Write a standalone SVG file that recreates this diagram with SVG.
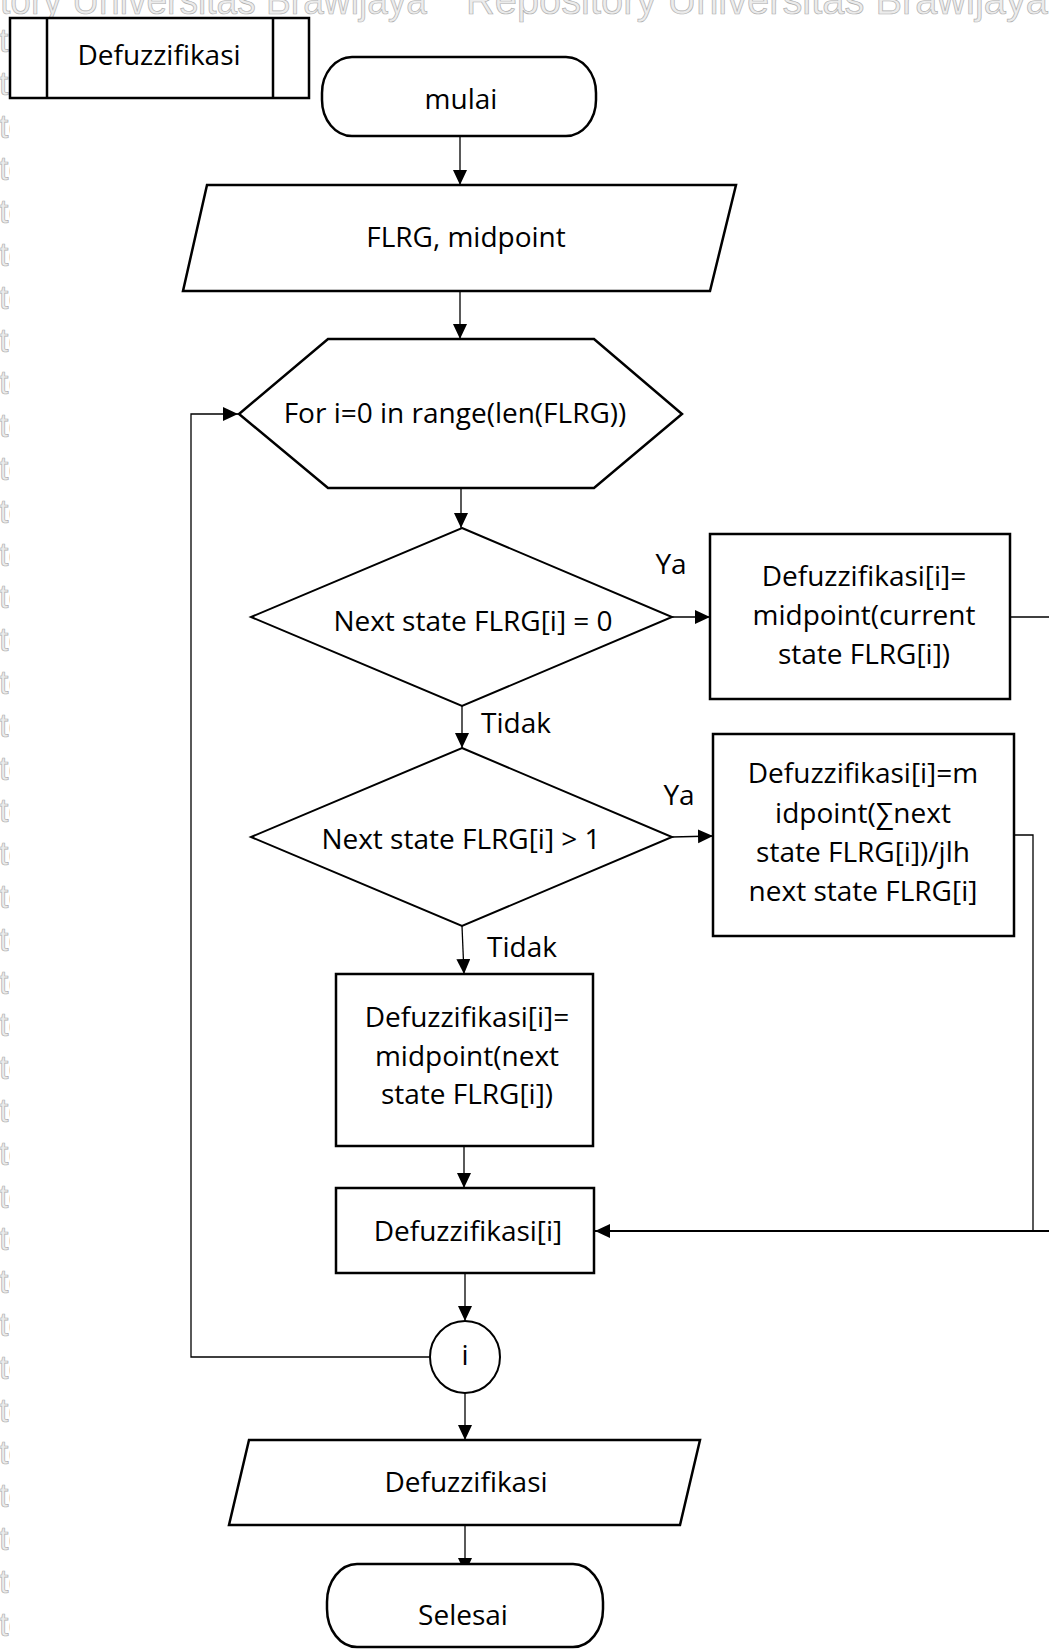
<svg xmlns="http://www.w3.org/2000/svg" width="1049" height="1652" viewBox="0 0 1049 1652">
<style>
.n{fill:#fff;stroke:#000;stroke-width:2.5}
.d{fill:#fff;stroke:#000;stroke-width:2}
.t{font-family:"Open Sans","Noto Sans",sans-serif;font-size:28px;fill:#000;text-anchor:middle}
.c{fill:none;stroke:#000;stroke-width:1.3}
.wm{font-family:"Liberation Sans",Arial,sans-serif;font-size:40px;fill:#ececec;stroke:#b0b0b0;stroke-width:0.7}
.wl{font-family:"Liberation Sans",Arial,sans-serif;font-size:34px;fill:#ececec;stroke:#b0b0b0;stroke-width:0.7}
</style>
<defs>
<marker id="ah" markerUnits="userSpaceOnUse" markerWidth="16" markerHeight="15" refX="15" refY="7" orient="auto">
<path d="M0,0 L15,7 L0,14 Z" fill="#000"/>
</marker>
<clipPath id="lc"><rect x="0" y="0" width="10" height="1652"/></clipPath>
</defs>
<rect width="1049" height="1652" fill="#fff"/>
<g id="watermark">
<text class="wm" x="0" y="14" textLength="427" lengthAdjust="spacingAndGlyphs">tory Universitas Brawijaya</text>
<text class="wm" x="466" y="14" textLength="582" lengthAdjust="spacingAndGlyphs">Repository Universitas Brawijaya</text>
<g clip-path="url(#lc)">
<text class="wl" x="-1" y="52">to</text><text class="wl" x="-1" y="95">to</text><text class="wl" x="-1" y="138">to</text><text class="wl" x="-1" y="180">to</text><text class="wl" x="-1" y="223">to</text><text class="wl" x="-1" y="266">to</text><text class="wl" x="-1" y="309">to</text><text class="wl" x="-1" y="352">to</text><text class="wl" x="-1" y="394">to</text><text class="wl" x="-1" y="437">to</text><text class="wl" x="-1" y="480">to</text><text class="wl" x="-1" y="523">to</text><text class="wl" x="-1" y="566">to</text><text class="wl" x="-1" y="608">to</text><text class="wl" x="-1" y="651">to</text><text class="wl" x="-1" y="694">to</text><text class="wl" x="-1" y="737">to</text><text class="wl" x="-1" y="780">to</text><text class="wl" x="-1" y="822">to</text><text class="wl" x="-1" y="865">to</text><text class="wl" x="-1" y="908">to</text><text class="wl" x="-1" y="951">to</text><text class="wl" x="-1" y="994">to</text><text class="wl" x="-1" y="1036">to</text><text class="wl" x="-1" y="1079">to</text><text class="wl" x="-1" y="1122">to</text><text class="wl" x="-1" y="1165">to</text><text class="wl" x="-1" y="1208">to</text><text class="wl" x="-1" y="1250">to</text><text class="wl" x="-1" y="1293">to</text><text class="wl" x="-1" y="1336">to</text><text class="wl" x="-1" y="1379">to</text><text class="wl" x="-1" y="1422">to</text><text class="wl" x="-1" y="1464">to</text><text class="wl" x="-1" y="1507">to</text><text class="wl" x="-1" y="1550">to</text><text class="wl" x="-1" y="1593">to</text><text class="wl" x="-1" y="1636">to</text>
</g>
</g>
<g id="connectors">
<line class="c" x1="460" y1="136" x2="460" y2="185" marker-end="url(#ah)"/>
<line class="c" x1="460" y1="291" x2="460" y2="339" marker-end="url(#ah)"/>
<line class="c" x1="461" y1="488" x2="461" y2="528" marker-end="url(#ah)"/>
<line class="c" x1="672" y1="617" x2="710" y2="617" marker-end="url(#ah)"/>
<line class="c" x1="462" y1="706" x2="462" y2="748" marker-end="url(#ah)"/>
<line class="c" x1="672" y1="837" x2="713" y2="836" marker-end="url(#ah)"/>
<line class="c" x1="462" y1="926" x2="464" y2="974" marker-end="url(#ah)"/>
<line class="c" x1="464" y1="1146" x2="464" y2="1188" marker-end="url(#ah)"/>
<line class="c" x1="465" y1="1273" x2="465" y2="1321" marker-end="url(#ah)"/>
<line class="c" x1="465" y1="1393" x2="465" y2="1440" marker-end="url(#ah)"/>
<line class="c" x1="465" y1="1525" x2="465" y2="1573" marker-end="url(#ah)"/>
<polyline class="c" points="429,1357 191,1357 191,414 238,414" marker-end="url(#ah)"/>
<polyline class="c" points="1010,617 1060,617 1060,1231"/>
<polyline class="c" points="1014,835 1033,835 1033,1231"/>
<line x1="1060" y1="1231" x2="595" y2="1231" stroke="#000" stroke-width="1.8" marker-end="url(#ah)"/>
</g>
<g id="sub">
<rect class="n" x="10" y="18" width="299" height="80"/>
<line x1="47" y1="18" x2="47" y2="98" stroke="#000" stroke-width="2.5"/>
<line x1="273" y1="18" x2="273" y2="98" stroke="#000" stroke-width="2.5"/>
<text class="t" x="159" y="65">Defuzzifikasi</text>
</g>
<g id="mulai">
<rect class="n" x="322" y="57" width="274" height="79" rx="30" ry="36"/>
<text class="t" x="461" y="109">mulai</text>
</g>
<g id="input">
<polygon class="n" points="207,185 736,185 710,291 183,291"/>
<text class="t" x="466" y="247">FLRG, midpoint</text>
</g>
<g id="loop">
<polygon class="n" points="328,339 594,339 682,414 594,488 328,488 239,414"/>
<text class="t" x="455" y="423">For i=0 in range(len(FLRG))</text>
</g>
<g id="dec1">
<polygon class="d" points="462,528 672,617 462,706 251,617"/>
<text class="t" x="473" y="631">Next state FLRG[i] = 0</text>
<text class="t" x="671" y="574">Ya</text>
<text class="t" x="516" y="733">Tidak</text>
</g>
<g id="box1">
<rect class="n" x="710" y="534" width="300" height="165"/>
<text class="t" x="864" y="586">Defuzzifikasi[i]=</text>
<text class="t" x="864" y="625">midpoint(current</text>
<text class="t" x="864" y="664">state FLRG[i])</text>
</g>
<g id="dec2">
<polygon class="d" points="462,748 672,837 462,926 251,837"/>
<text class="t" x="461" y="849">Next state FLRG[i] &gt; 1</text>
<text class="t" x="679" y="805">Ya</text>
<text class="t" x="522" y="957">Tidak</text>
</g>
<g id="box2">
<rect class="n" x="713" y="734" width="301" height="202"/>
<text class="t" x="863" y="783">Defuzzifikasi[i]=m</text>
<text class="t" x="863" y="823">idpoint(∑next</text>
<text class="t" x="863" y="862">state FLRG[i])/jlh</text>
<text class="t" x="863" y="901">next state FLRG[i]</text>
</g>
<g id="box3">
<rect class="n" x="336" y="974" width="257" height="172"/>
<text class="t" x="467" y="1027">Defuzzifikasi[i]=</text>
<text class="t" x="467" y="1066">midpoint(next</text>
<text class="t" x="467" y="1104">state FLRG[i])</text>
</g>
<g id="box4">
<rect class="n" x="336" y="1188" width="258" height="85"/>
<text class="t" x="468" y="1241">Defuzzifikasi[i]</text>
</g>
<g id="conn">
<ellipse class="d" cx="465" cy="1357" rx="35" ry="36"/>
<text class="t" x="465" y="1365">i</text>
</g>
<g id="output">
<polygon class="n" points="249,1440 700,1440 680,1525 229,1525"/>
<text class="t" x="466" y="1492">Defuzzifikasi</text>
</g>
<g id="selesai">
<rect class="n" x="327" y="1564" width="276" height="83" rx="30" ry="38"/>
<text class="t" x="463" y="1625">Selesai</text>
</g>
</svg>
